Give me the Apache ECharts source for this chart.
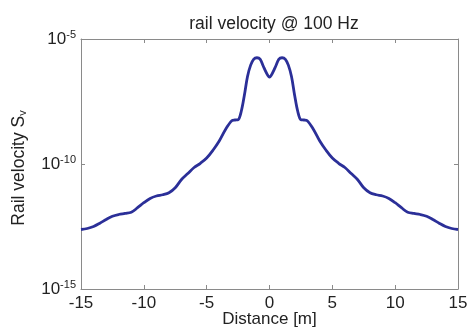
<!DOCTYPE html>
<html>
<head>
<meta charset="utf-8">
<script src="https://cdn.jsdelivr.net/npm/echarts@6/dist/echarts.min.js"></script>
<style>html,body{margin:0;padding:0;background:#fff;}#c{width:469px;height:329px;}</style>
</head>
<body>
<div id="c"></div>
<script>
const distance = [-15, -14.5, -14, -13.5, -13, -12.5, -12, -11.5, -11, -10.5, -10, -9.5, -9, -8.5, -8, -7.5, -7, -6.5, -6, -5.5, -5, -4.5, -4, -3.5, -3, -2.75, -2.5, -2.25, -2, -1.75, -1.5, -1.25, -1, -0.75, -0.5, -0.25, 0,
  0.25, 0.5, 0.75, 1, 1.25, 1.5, 1.75, 2, 2.25, 2.5, 2.75, 3, 3.5, 4, 4.5, 5, 5.5, 6, 6.5, 7, 7.5, 8, 8.5, 9, 9.5, 10, 10.5, 11, 11.5, 12, 12.5, 13, 13.5, 14, 14.5, 15];
const velocity = [2.40e-13, 2.63e-13, 3.16e-13, 4.27e-13, 6.03e-13, 8.13e-13, 9.55e-13, 1.05e-12, 1.17e-12, 1.78e-12, 2.82e-12, 4.17e-12, 5.25e-12, 5.89e-12, 7.08e-12, 1.12e-11, 2.40e-11, 4.17e-11, 7.24e-11, 1.07e-10, 1.74e-10, 3.55e-10, 8.32e-10, 2.40e-9, 5.40e-9, 5.75e-9, 5.89e-9, 1.26e-8, 5.60e-8, 3.16e-7, 9.00e-7, 1.58e-6, 1.78e-6, 1.58e-6, 8.32e-7, 4.47e-7, 3.02e-7,
  4.47e-7, 8.32e-7, 1.58e-6, 1.78e-6, 1.58e-6, 9.00e-7, 3.16e-7, 5.60e-8, 1.26e-8, 5.89e-9, 5.75e-9, 5.40e-9, 2.40e-9, 8.32e-10, 3.55e-10, 1.74e-10, 1.07e-10, 7.24e-11, 4.17e-11, 2.40e-11, 1.12e-11, 7.08e-12, 5.89e-12, 5.25e-12, 4.17e-12, 2.82e-12, 1.78e-12, 1.17e-12, 1.05e-12, 9.55e-13, 8.13e-13, 6.03e-13, 4.27e-13, 3.16e-13, 2.63e-13, 2.40e-13];
const xTicks = [-15, -10, -5, 0, 5, 10, 15];
const yTicks = [1e-15, 1e-10, 1e-5];

const chart = echarts.init(document.getElementById('c'));
const axisColor = '#8a8a8a';
const font = 'Liberation Sans, Arial, sans-serif';
const pts = distance.map((d, i) => [d, velocity[i]]);
chart.setOption({
  animation: false,
  title: {
    text: 'rail velocity @ 100 Hz', left: 269, top: 10, textAlign: 'center',
    textStyle: { fontFamily: font, fontSize: 17.5, fontWeight: 'normal', color: '#222' }
  },
  grid: { left: 81, right: 11, top: 39, bottom: 40, containLabel: false, outerBoundsMode: 'none' },
  xAxis: [{
    type: 'value', min: xTicks[0], max: xTicks[xTicks.length - 1], interval: 5,
    name: 'Distance [m]', nameLocation: 'middle', nameGap: 22, nameMoveOverlap: false,
    nameTextStyle: { fontFamily: font, fontSize: 17, color: '#222' },
    axisLine: { onZero: false, lineStyle: { color: axisColor } },
    axisTick: { inside: true, length: 4, lineStyle: { color: axisColor } },
    axisLabel: { fontFamily: font, fontSize: 17, color: '#222', margin: 6 },
    splitLine: { show: false }
  }, {
    type: 'value', position: 'top', min: xTicks[0], max: xTicks[xTicks.length - 1], interval: 5,
    axisLine: { show: true, onZero: false, lineStyle: { color: axisColor } },
    axisTick: { inside: true, length: 4, lineStyle: { color: axisColor } },
    axisLabel: { show: false }, splitLine: { show: false }
  }],
  yAxis: [{
    type: 'log', logBase: 100000, min: yTicks[0], max: yTicks[yTicks.length - 1],
    name: '{n|Rail velocity S}{s|v}', nameLocation: 'middle', nameGap: 53, nameRotate: 90,
    nameTextStyle: {
      padding: [0, 8, 0, 0],
      rich: {
        n: { fontFamily: font, fontSize: 17.5, color: '#222' },
        s: { fontFamily: font, fontSize: 11, color: '#222', verticalAlign: 'bottom', padding: [7, 0, 0, 0] }
      }
    },
    axisLine: { show: true, onZero: false, lineStyle: { color: axisColor } },
    axisTick: { show: true, inside: true, length: 4, lineStyle: { color: axisColor } },
    axisLabel: {
      margin: 5,
      formatter: v => '{b|10}{s|' + Math.round(Math.log10(v)) + '}',
      rich: {
        b: { fontFamily: font, fontSize: 17, color: '#222' },
        s: { fontFamily: font, fontSize: 11, color: '#222', verticalAlign: 'top', padding: [0, 0, 9, 0] }
      }
    },
    splitLine: { show: false }
  }, {
    type: 'log', logBase: 100000, min: yTicks[0], max: yTicks[yTicks.length - 1], position: 'right',
    axisLine: { show: true, onZero: false, lineStyle: { color: axisColor } },
    axisTick: { show: true, inside: true, length: 4, lineStyle: { color: axisColor } },
    axisLabel: { show: false }, splitLine: { show: false }
  }],
  series: [{
    type: 'line', data: pts, smooth: 0.35, showSymbol: false,
    lineStyle: { color: '#2b2f98', width: 2.8 }
  }]
});
</script>
</body>
</html>
